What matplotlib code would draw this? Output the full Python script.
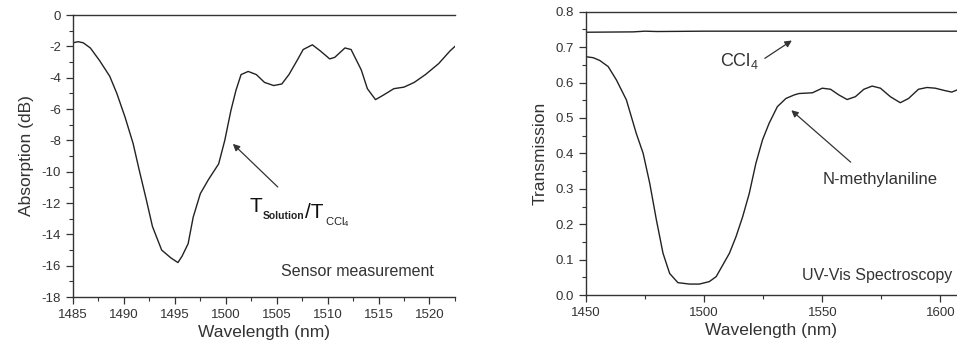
import matplotlib
matplotlib.use('Agg')
import matplotlib.pyplot as plt
from matplotlib.ticker import MultipleLocator

plt.rcParams['font.family'] = ['Liberation Sans', 'DejaVu Sans']
plt.rcParams['mathtext.fontset'] = 'custom'
plt.rcParams['mathtext.rm'] = 'Liberation Sans'
plt.rcParams['axes.unicode_minus'] = False

# Sensor measurement (left panel)
sensorWl = [1485.0, 1485.5, 1486.0, 1486.7, 1487.6, 1488.6, 1489.3, 1490.1, 1490.9,
            1491.5, 1492.2, 1492.8, 1493.7, 1494.6, 1495.3, 1495.7, 1496.3, 1496.8,
            1497.5, 1498.3, 1499.3, 1499.9, 1500.5, 1501.0, 1501.5, 1502.2, 1503.0,
            1503.8, 1504.7, 1505.5, 1506.2, 1507.0, 1507.6, 1508.5, 1509.3, 1510.2,
            1510.7, 1511.7, 1512.3, 1513.3, 1513.9, 1514.7, 1515.5, 1516.5, 1517.5,
            1518.5, 1519.6, 1520.9, 1522.0, 1522.5]
sensorAbs = [-1.77, -1.70, -1.77, -2.1, -2.9, -3.9, -5.0, -6.5, -8.2,
             -9.9, -11.8, -13.5, -15.0, -15.5, -15.8, -15.4, -14.6, -12.9,
             -11.4, -10.5, -9.5, -8.0, -6.1, -4.8, -3.8, -3.6, -3.8,
             -4.3, -4.5, -4.4, -3.8, -2.9, -2.2, -1.9, -2.3, -2.8,
             -2.7, -2.1, -2.2, -3.5, -4.7, -5.4, -5.1, -4.7, -4.6,
             -4.3, -3.8, -3.1, -2.3, -2.0]

# UV-Vis spectroscopy (right panel)
uvWl = [1450.0, 1453.1, 1455.9, 1459.4, 1462.9, 1467.1, 1471.3, 1474.2, 1477.0,
        1479.8, 1482.6, 1485.4, 1488.9, 1493.8, 1498.0, 1502.2, 1505.1, 1507.9,
        1510.7, 1513.5, 1516.3, 1519.1, 1521.9, 1524.7, 1527.5, 1531.0, 1534.6,
        1538.1, 1540.2, 1545.8, 1550.0, 1553.5, 1557.0, 1560.5, 1564.0, 1567.6,
        1571.1, 1574.6, 1578.8, 1583.0, 1586.5, 1590.7, 1594.3, 1597.8, 1602.0,
        1604.8, 1607.0]
methylTrans = [0.673, 0.670, 0.662, 0.645, 0.607, 0.551, 0.456, 0.400, 0.315,
               0.212, 0.118, 0.061, 0.035, 0.031, 0.031, 0.038, 0.052, 0.085,
               0.118, 0.165, 0.221, 0.287, 0.372, 0.438, 0.485, 0.532, 0.555,
               0.565, 0.569, 0.571, 0.584, 0.581, 0.565, 0.552, 0.560, 0.581,
               0.590, 0.584, 0.560, 0.543, 0.555, 0.581, 0.586, 0.584, 0.577,
               0.573, 0.579]
cclWl = [1450.0, 1470.0, 1475.0, 1480.0, 1500.0, 1550.0, 1607.0]
cclTrans = [0.742, 0.743, 0.745, 0.744, 0.745, 0.745, 0.745]

lineColor = '#222222'
textColor = '#333333'
tickFont = 9.5


def style_axes(ax):
    ax.spines['right'].set_visible(False)
    for s in ['left', 'bottom', 'top']:
        ax.spines[s].set_color(textColor)
        ax.spines[s].set_linewidth(1.0)
    ax.tick_params(which='major', direction='out', length=5, width=0.9,
                   labelsize=tickFont, colors=textColor, top=False, right=False)
    ax.tick_params(which='minor', direction='out', length=3, width=0.8,
                   colors=textColor, top=False, right=False)


fig = plt.figure(figsize=(9.57, 3.5), dpi=100)

# Left panel
ax1 = fig.add_axes([0.0763, 0.1514, 0.3991, 0.8056])
ax1.plot(sensorWl, sensorAbs, color=lineColor, linewidth=1.0)
ax1.set_xlim(1485, 1522.5)
ax1.set_ylim(-18, 0)
ax1.xaxis.set_major_locator(MultipleLocator(5))
ax1.xaxis.set_minor_locator(MultipleLocator(2.5))
ax1.yaxis.set_major_locator(MultipleLocator(2))
ax1.yaxis.set_minor_locator(MultipleLocator(1))
style_axes(ax1)
ax1.set_xlabel('Wavelength (nm)', fontsize=12.5, color=textColor, labelpad=3)
ax1.set_ylabel('Absorption (dB)', fontsize=12.5, color=textColor, labelpad=6)
ax1.annotate('', xy=(1500.5, -8.1), xytext=(1505.3, -11.1),
             arrowprops=dict(arrowstyle='-|>', color=textColor, lw=0.9,
                             mutation_scale=10))
# T_Solution / T_CCl4 built from chained pieces
t1 = ax1.text(1502.3, -12.6, 'T', fontsize=15, ha='left', va='baseline',
              color='#111111')
t2 = ax1.annotate('Solution', xy=(1, 0), xycoords=t1, xytext=(0.5, -2),
                  textcoords='offset points', fontsize=7.5, fontweight='bold',
                  ha='left', va='baseline', color='#222222')
t3 = ax1.annotate('/T', xy=(1, 0), xycoords=t2, xytext=(0.5, 2),
                  textcoords='offset points', fontsize=15, ha='left',
                  va='baseline', color='#111111')
ax1.annotate(r'CCl$_4$', xy=(1, 0), xycoords=t3, xytext=(1.0, -2),
             textcoords='offset points', fontsize=8, ha='left',
             va='baseline', color='#222222')
ax1.text(1520.4, -16.4, 'Sensor measurement', fontsize=11.5, ha='right',
         va='center', color=textColor)

# Right panel
ax2 = fig.add_axes([0.6123, 0.157, 0.3877, 0.8096])
ax2.plot(uvWl, methylTrans, color=lineColor, linewidth=1.0)
ax2.plot(cclWl, cclTrans, color=lineColor, linewidth=1.0)
ax2.set_xlim(1450, 1607)
ax2.set_ylim(0, 0.8)
ax2.xaxis.set_major_locator(MultipleLocator(50))
ax2.xaxis.set_minor_locator(MultipleLocator(25))
ax2.yaxis.set_major_locator(MultipleLocator(0.1))
ax2.yaxis.set_minor_locator(MultipleLocator(0.05))
ax2.yaxis.set_major_formatter(matplotlib.ticker.FormatStrFormatter('%.1f'))
style_axes(ax2)
ax2.set_xlabel('Wavelength (nm)', fontsize=12.5, color=textColor, labelpad=3)
ax2.set_ylabel('Transmission', fontsize=12.5, color=textColor, labelpad=6)
ax2.annotate('', xy=(1538.1, 0.723), xytext=(1524.7, 0.664),
             arrowprops=dict(arrowstyle='-|>', color=textColor, lw=0.9,
                             mutation_scale=10))
ax2.text(1514.9, 0.66, r'CCl$_4$', fontsize=13, ha='center', va='center',
         color=textColor)
ax2.annotate('', xy=(1536.0, 0.527), xytext=(1562.9, 0.370),
             arrowprops=dict(arrowstyle='-|>', color=textColor, lw=0.9,
                             mutation_scale=10))
ax2.text(1574.6, 0.325, 'N-methylaniline', fontsize=12, ha='center',
         va='center', color=textColor)
ax2.text(1604.8, 0.056, 'UV-Vis Spectroscopy', fontsize=11.5, ha='right',
         va='center', color=textColor)

fig.savefig('out.png', dpi=100)
